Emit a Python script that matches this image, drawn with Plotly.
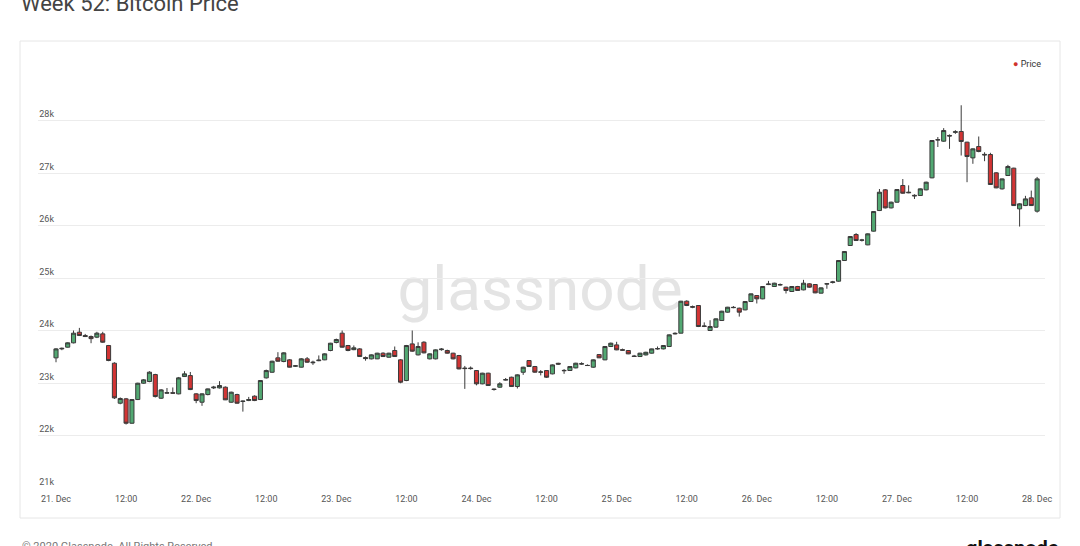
import pandas as pd
import plotly.graph_objects as go

# hourly candles, 21 Dec 2020 00:00 -> 28 Dec 2020 00:00
times = pd.date_range("2020-12-21 00:00", periods=169, freq="h")

open_ = [23479, 23650, 23682, 23765, 23968, 23905, 23885, 23873, 23936, 23714,
         23377, 22615, 22698, 22234, 22685, 22996, 23028, 23161, 22710, 22806,
         22815, 22793, 23123, 23142, 22793, 22634, 22780, 22907, 22907, 22920,
         22634, 22780, 22647, 22666, 22749, 22685, 23098, 23205, 23479, 23409,
         23441, 23320, 23301, 23460, 23385, 23425, 23441, 23619, 23771, 23949,
         23714, 23635, 23650, 23485, 23460, 23460, 23568, 23491, 23619, 23441,
         23047, 23745, 23536, 23777, 23460, 23460, 23635, 23619, 23568, 23523,
         23285, 23285, 23237, 22984, 23187, 22885, 22920, 23055, 23110, 22933,
         23205, 23428, 23314, 23206, 23237, 23174, 23375, 23240, 23238, 23288,
         23360, 23335, 23301, 23542, 23441, 23695, 23726, 23635, 23619, 23515,
         23504, 23535, 23568, 23650, 23650, 23695, 23935, 23949, 24558, 24455,
         24476, 24076, 24000, 24063, 24190, 24349, 24435, 24425, 24393, 24552,
         24666, 24603, 24875, 24838, 24875, 24825, 24743, 24838, 24774, 24889,
         24876, 24711, 24885, 24915, 24939, 25333, 25619, 25828, 25725, 25631,
         25892, 26285, 26679, 26336, 26444, 26762, 26635, 26575, 26571, 26679,
         26908, 27635, 27606, 27715, 27775, 27790, 27587, 27288, 27504, 27355,
         27352, 27003, 26698, 26952, 27092, 26317, 26380, 26527, 26273]

high = [23665, 23675, 23775, 24000, 24050, 23935, 23905, 23975, 23975, 23725,
        23395, 22725, 22715, 22695, 23005, 23075, 23225, 23175, 22885, 22905,
        22915, 23115, 23225, 23210, 22805, 22805, 22895, 22945, 23035, 22935,
        22835, 22795, 22665, 22735, 22765, 23055, 23255, 23425, 23587, 23585,
        23455, 23340, 23475, 23495, 23425, 23525, 23565, 23765, 23845, 24000,
        23725, 23715, 23665, 23505, 23545, 23575, 23585, 23575, 23695, 23455,
        23725, 24000, 23775, 23795, 23565, 23640, 23665, 23635, 23575, 23535,
        23325, 23315, 23245, 23195, 23195, 22895, 23015, 23095, 23120, 23165,
        23310, 23435, 23325, 23245, 23245, 23355, 23385, 23265, 23320, 23385,
        23395, 23355, 23450, 23550, 23705, 23770, 23785, 23655, 23625, 23535,
        23575, 23595, 23655, 23695, 23720, 23925, 23965, 24565, 24575, 24475,
        24485, 24155, 24195, 24230, 24375, 24450, 24465, 24435, 24560, 24705,
        24675, 24845, 24945, 24910, 24895, 24835, 24845, 24850, 24965, 24900,
        24885, 24820, 24905, 24945, 25340, 25510, 25795, 25855, 25745, 25850,
        26275, 26695, 26695, 26455, 26695, 26885, 26765, 26595, 26705, 26835,
        27625, 27685, 27855, 27735, 27815, 28290, 27595, 27470, 27695, 27395,
        27385, 27015, 26895, 27155, 27100, 26425, 26565, 26665, 26925]

low = [23395, 23625, 23675, 23755, 23895, 23875, 23758, 23855, 23765, 23415,
       22695, 22595, 22209, 22225, 22675, 22985, 23015, 22725, 22695, 22795,
       22795, 22785, 23115, 22865, 22615, 22565, 22765, 22885, 22895, 22675,
       22625, 22605, 22455, 22655, 22655, 22675, 23085, 23195, 23405, 23395,
       23295, 23305, 23295, 23385, 23345, 23415, 23435, 23605, 23755, 23675,
       23605, 23625, 23495, 23425, 23450, 23455, 23495, 23485, 23495, 22995,
       23035, 23595, 23525, 23565, 23450, 23450, 23615, 23560, 23450, 23260,
       22888, 23255, 22955, 22975, 22945, 22855, 22910, 23045, 22925, 22895,
       23155, 23305, 23195, 23145, 23095, 23165, 23345, 23175, 23230, 23280,
       23345, 23325, 23290, 23475, 23435, 23685, 23625, 23615, 23550, 23495,
       23495, 23525, 23560, 23635, 23640, 23685, 23925, 23945, 24465, 24425,
       24065, 24065, 23990, 24055, 24185, 24340, 24425, 24265, 24385, 24545,
       24515, 24595, 24865, 24830, 24855, 24705, 24735, 24755, 24765, 24815,
       24710, 24705, 24795, 24895, 24930, 25325, 25610, 25705, 25695, 25625,
       25885, 26275, 26325, 26325, 26435, 26605, 26615, 26505, 26565, 26670,
       26900, 27495, 27595, 27460, 27745, 27333, 26825, 27175, 27395, 27225,
       26775, 26710, 26685, 26945, 26375, 25980, 26370, 26375, 26245]

close = [23650, 23660, 23765, 23949, 23904, 23885, 23845, 23949, 23777, 23428,
         22717, 22705, 22234, 22685, 22996, 23060, 23206, 22742, 22869, 22815,
         22806, 23098, 23174, 22875, 22666, 22793, 22888, 22920, 22952, 22679,
         22825, 22615, 22655, 22685, 22666, 23047, 23237, 23415, 23415, 23574,
         23301, 23327, 23460, 23396, 23395, 23435, 23555, 23758, 23828, 23682,
         23619, 23670, 23504, 23465, 23536, 23568, 23504, 23568, 23504, 23015,
         23714, 23606, 23695, 23574, 23555, 23631, 23645, 23568, 23460, 23269,
         23275, 23275, 22984, 23187, 22952, 22876, 22984, 23065, 22933, 23155,
         23301, 23314, 23206, 23210, 23110, 23345, 23360, 23235, 23314, 23377,
         23367, 23333, 23441, 23479, 23695, 23758, 23631, 23625, 23555, 23505,
         23568, 23585, 23650, 23655, 23714, 23917, 23945, 24558, 24476, 24445,
         24076, 24085, 24076, 24222, 24368, 24444, 24440, 24349, 24552, 24698,
         24603, 24838, 24885, 24901, 24870, 24762, 24838, 24762, 24901, 24825,
         24717, 24812, 24890, 24925, 25333, 25504, 25790, 25714, 25720, 25841,
         26266, 26634, 26336, 26444, 26685, 26615, 26625, 26565, 26698, 26825,
         27619, 27630, 27809, 27705, 27785, 27600, 27314, 27460, 27409, 27345,
         26781, 26717, 26888, 27123, 26380, 26412, 26507, 26380, 26888]

x_tickvals = pd.date_range("2020-12-21 00:00", periods=15, freq="12h")
x_ticktext = ["21. Dec", "12:00", "22. Dec", "12:00", "23. Dec", "12:00",
              "24. Dec", "12:00", "25. Dec", "12:00", "26. Dec", "12:00",
              "27. Dec", "12:00", "28. Dec"]
y_tickvals = [21000, 22000, 23000, 24000, 25000, 26000, 27000, 28000, 29000]
y_ticktext = ["21k", "22k", "23k", "24k", "25k", "26k", "27k", "28k", ""]

FONT = "Roboto"
W, H = 1080, 546
L, R, T, B = 38, 35, 68, 58
PW, PH = W - L - R, H - T - B


def px_x(p):
    return (p - L) / PW


def px_y(p):
    return (H - B - p) / PH


fig = go.Figure()
fig.add_trace(go.Candlestick(
    x=times, open=open_, high=high, low=low, close=close,
    name="Price", showlegend=False,
    increasing=dict(fillcolor="#52a872", line=dict(color="#3a3a3a", width=1)),
    decreasing=dict(fillcolor="#d23434", line=dict(color="#3a3a3a", width=1)),
    whiskerwidth=0,
))

fig.update_layout(
    width=W, height=H,
    margin=dict(l=L, r=R, t=T, b=B),
    paper_bgcolor="white", plot_bgcolor="white",
    font=dict(family=FONT, color="#555"),
    boxgap=0.0,
    showlegend=False,
    xaxis=dict(
        range=["2020-12-20 20:55", "2020-12-28 01:21"],
        rangeslider=dict(visible=False),
        tickvals=x_tickvals, ticktext=x_ticktext,
        tickfont=dict(size=9, color="#555"),
        showgrid=False, zeroline=False, showline=False,
        ticks="", ticklabelstandoff=4,
    ),
    yaxis=dict(
        range=[21000, 29000],
        tickvals=y_tickvals, ticktext=y_ticktext,
        ticklabelposition="outside top", ticklabelstandoff=-17,
        tickfont=dict(size=9, color="#555"),
        showgrid=True, gridcolor="#ececec", gridwidth=1,
        zeroline=False, showline=False, ticks="",
    ),
    shapes=[
        dict(type="rect", xref="paper", yref="paper",
             x0=px_x(20), x1=px_x(1060), y0=px_y(518), y1=px_y(41),
             line=dict(color="#e6e6e6", width=1), fillcolor="rgba(0,0,0,0)",
             layer="below"),
        dict(type="rect", xref="paper", yref="paper",
             x0=px_x(380), x1=px_x(700), y0=px_y(318), y1=px_y(250),
             line=dict(width=0), fillcolor="rgba(0,0,0,0)", layer="below",
             label=dict(text="glassnode", textposition="middle center",
                        font=dict(family=FONT, size=62, color="#e4e4e4"))),
    ],
    annotations=[
        dict(text="Week 52: Bitcoin Price", xref="paper", yref="paper",
             x=px_x(19), y=px_y(3), xanchor="left", yanchor="middle",
             showarrow=False, font=dict(family=FONT, size=22, color="#444")),
        dict(text="<span style='color:#d0342c'>●</span> Price",
             xref="paper", yref="paper", x=px_x(1043), y=px_y(64),
             xanchor="right", yanchor="middle", showarrow=False,
             font=dict(family=FONT, size=9, color="#333")),
        dict(text="© 2020 Glassnode. All Rights Reserved.", xref="paper",
             yref="paper", x=px_x(20), y=px_y(538), xanchor="left",
             yanchor="top", showarrow=False,
             font=dict(family=FONT, size=11, color="#777")),
        dict(text="<b>glassnode</b>", xref="paper", yref="paper",
             x=px_x(1061), y=px_y(534), xanchor="right", yanchor="top",
             showarrow=False, font=dict(family=FONT, size=20, color="#111")),
    ],
)

fig.write_html(
    "out.html",
    config={"displayModeBar": False},
    post_script="document.body.style.margin='0';"
                "document.body.style.overflow='hidden';",
)
